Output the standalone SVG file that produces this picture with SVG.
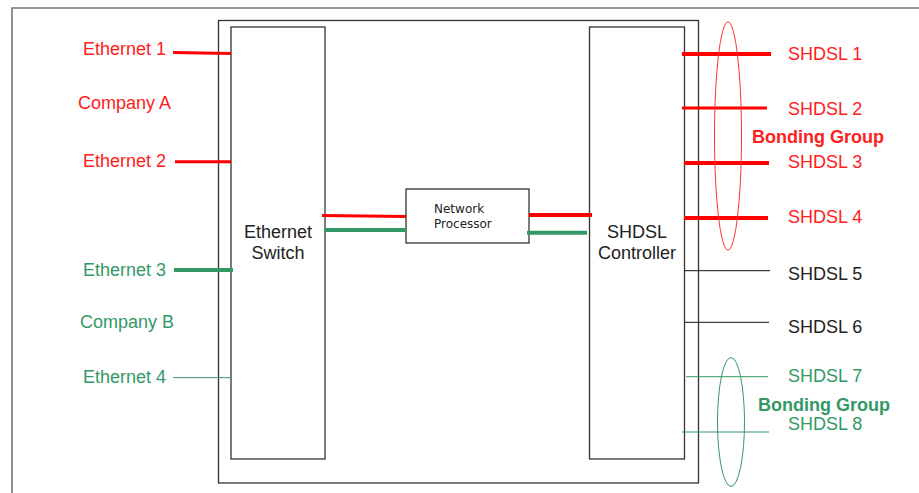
<svg xmlns="http://www.w3.org/2000/svg" width="919" height="493" viewBox="0 0 919 493">
<style>
.t{font-family:"Liberation Sans",Arial,sans-serif;font-size:18px}
.b{font-weight:bold}
.red{fill:#ff2020}
.grn{fill:#339966}
.blk{fill:#222}
.box{fill:#fff;stroke:#333;stroke-width:1.3}
.np{font-family:"DejaVu Sans",sans-serif;font-size:12px;fill:#222}
.lr{stroke:#ff0000;fill:none}
.lg{stroke:#339966;fill:none}
.lk{stroke:#111;fill:none;stroke-width:1}
</style>
<rect width="919" height="493" fill="#fff"/>
<g id="frame">
<path d="M12 493 V8 H919" fill="none" stroke="#777" stroke-width="1.6"/>
</g>
<g id="main-box"><rect class="box" x="218.5" y="20.5" width="480" height="462.5"/></g>
<g id="ethernet-switch">
<rect class="box" x="231" y="27" width="94" height="432"/>
<text class="t blk" x="278" y="238" text-anchor="middle">Ethernet</text>
<text class="t blk" x="278" y="259" text-anchor="middle">Switch</text>
</g>
<g id="shdsl-controller">
<rect class="box" x="589.5" y="27" width="95" height="432"/>
<text class="t blk" x="637" y="238" text-anchor="middle">SHDSL</text>
<text class="t blk" x="637" y="259" text-anchor="middle">Controller</text>
</g>
<g id="network-processor">
<rect class="box" x="406" y="189" width="123" height="54"/>
<text class="np" x="434" y="213">Network</text>
<text class="np" x="434" y="227.5">Processor</text>
</g>
<g id="left-labels">
<text class="t red" x="83" y="55">Ethernet 1</text>
<text class="t red" x="78" y="109">Company A</text>
<text class="t red" x="83" y="167">Ethernet 2</text>
<text class="t grn" x="83" y="275.5">Ethernet 3</text>
<text class="t grn" x="80" y="328">Company B</text>
<text class="t grn" x="83" y="383">Ethernet 4</text>
</g>
<g id="right-labels">
<text class="t red" x="788" y="60">SHDSL 1</text>
<text class="t red" x="788" y="115">SHDSL 2</text>
<text class="t red b" x="752" y="143">Bonding Group</text>
<text class="t red" x="788" y="168">SHDSL 3</text>
<text class="t red" x="788" y="222.5">SHDSL 4</text>
<text class="t blk" x="788" y="280">SHDSL 5</text>
<text class="t blk" x="788" y="332.5">SHDSL 6</text>
<text class="t grn" x="788" y="381.5">SHDSL 7</text>
<text class="t grn b" x="758" y="411">Bonding Group</text>
<text class="t grn" x="788" y="430">SHDSL 8</text>
</g>
<g id="connectors">
<path class="lr" d="M173 52.5 L231 53.5" stroke-width="3"/>
<path class="lr" d="M175 161.7 H231" stroke-width="3"/>
<path class="lg" d="M174 270 H233" stroke-width="4"/>
<path class="lg" d="M173 377.7 H231" stroke-width="1"/>
<path class="lr" d="M322 215.5 L406 216.5" stroke-width="3"/>
<path class="lg" d="M324 230 H406" stroke-width="4"/>
<path class="lr" d="M529 215 H592" stroke-width="4"/>
<path class="lg" d="M527 232.7 H587" stroke-width="4"/>
<path class="lr" d="M682 54 H771" stroke-width="4"/>
<path class="lr" d="M682 108 H767" stroke-width="3"/>
<path class="lr" d="M684 163 H769" stroke-width="4"/>
<path class="lr" d="M684 218 H768" stroke-width="4"/>
<path class="lk" d="M684 270.7 H770"/>
<path class="lk" d="M684 322.3 H769"/>
<path class="lg" d="M686 376.7 H768" stroke-width="1"/>
<path class="lg" d="M682 432 H769" stroke-width="1"/>
<ellipse cx="728" cy="136" rx="13.5" ry="114" fill="none" stroke="#ff3030" stroke-width="1"/>
<ellipse cx="731" cy="422" rx="13.5" ry="64.5" fill="none" stroke="#339966" stroke-width="1"/>
</g>
</svg>
